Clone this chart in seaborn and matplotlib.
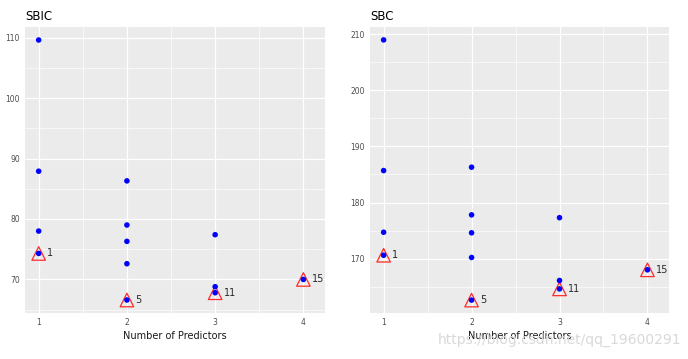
import matplotlib
matplotlib.use("Agg")
import matplotlib.pyplot as plt
from matplotlib.ticker import MultipleLocator, FixedLocator
import seaborn as sns
import pandas as pd

# ---- data ----
n_pred_sbic = [1, 1, 1, 1, 2, 2, 2, 2, 2, 3, 3, 3, 4]
sbic_vals = [109.6, 87.9, 78.0, 74.3, 86.3, 79.0, 76.3, 72.6, 66.6, 77.4, 68.8, 67.8, 70.0]
n_pred_sbc = [1, 1, 1, 1, 2, 2, 2, 2, 2, 3, 3, 3, 4]
sbc_vals = [209.0, 185.7, 174.7, 170.6, 186.3, 177.8, 174.6, 170.2, 162.6, 177.3, 166.1, 164.6, 168.0]
best_labels = ["1", "5", "11", "15"]
x_ticks = [1, 2, 3, 4]
sbic_yticks = [70, 80, 90, 100, 110]
sbc_yticks = [170, 180, 190, 200, 210]
titles = ["SBIC", "SBC"]
x_label = "Number of Predictors"
watermark = "https://blog.csdn.net/qq_19600291"

sns.set_theme(style="darkgrid")
plt.rcParams.update({
    "axes.facecolor": "#EBEBEB",
    "figure.facecolor": "white",
    "grid.color": "white",
    "font.family": ["DejaVu Sans"],
})

W, H = 688, 359
fig = plt.figure(figsize=(W / 100, H / 100), dpi=100)

panels = [
    (n_pred_sbic, sbic_vals, sbic_yticks, titles[0], [25, 27, 300, 286], (64.45, 111.75)),
    (n_pred_sbc, sbc_vals, sbc_yticks, titles[1], [370, 27, 299, 286], (160.3, 211.3)),
]

for xs, ys, yt, title, (px, py, pw, ph), ylim in panels:
    ax = fig.add_axes([px / W, 1 - (py + ph) / H, pw / W, ph / H])
    df = pd.DataFrame({"x": xs, "y": ys})
    best = df.loc[df.groupby("x")["y"].idxmin()].reset_index(drop=True)

    sns.scatterplot(data=best, x="x", y="y", ax=ax, marker="^", s=95,
                    facecolors="none", edgecolor="#FF2A2A", linewidth=0.9, zorder=3)
    sns.scatterplot(data=df, x="x", y="y", ax=ax, color="#0000FF", s=16,
                    edgecolor="none", zorder=4)
    for i, row in best.iterrows():
        ax.annotate(best_labels[i], (row["x"], row["y"]), xytext=(6.3, 0),
                    textcoords="offset points", ha="left", va="center",
                    fontsize=7, color="#2B2B2B", zorder=5)

    ax.set_xlim(0.845, 4.245)
    ax.set_ylim(*ylim)
    ax.xaxis.set_major_locator(FixedLocator(x_ticks))
    ax.xaxis.set_minor_locator(FixedLocator([1.5, 2.5, 3.5]))
    ax.yaxis.set_major_locator(FixedLocator(yt))
    step = yt[1] - yt[0]
    ax.yaxis.set_minor_locator(FixedLocator([v - step / 2 for v in yt] + [yt[-1] + step / 2]))
    ax.grid(which="major", color="white", linewidth=0.9)
    ax.grid(which="minor", color="white", linewidth=0.45)
    for s in ax.spines.values():
        s.set_visible(False)
    ax.tick_params(axis="both", which="major", length=2.2, width=0.6, color="#333333",
                   labelsize=5.5, labelcolor="#4D4D4D", pad=1.5)
    ax.tick_params(axis="both", which="minor", length=0)
    ax.set_xticklabels([str(v) for v in x_ticks])
    ax.set_xlabel(x_label, fontsize=7, color="#1A1A1A", labelpad=3)
    ax.set_ylabel("")
    ax.set_title(title, loc="left", fontsize=8.5, color="black", pad=5)

fig.text(438 / W, 1 - 340 / H, watermark, fontsize=10, color="#D9D9D9",
         ha="left", va="center")

fig.savefig("out.png", dpi=100)
